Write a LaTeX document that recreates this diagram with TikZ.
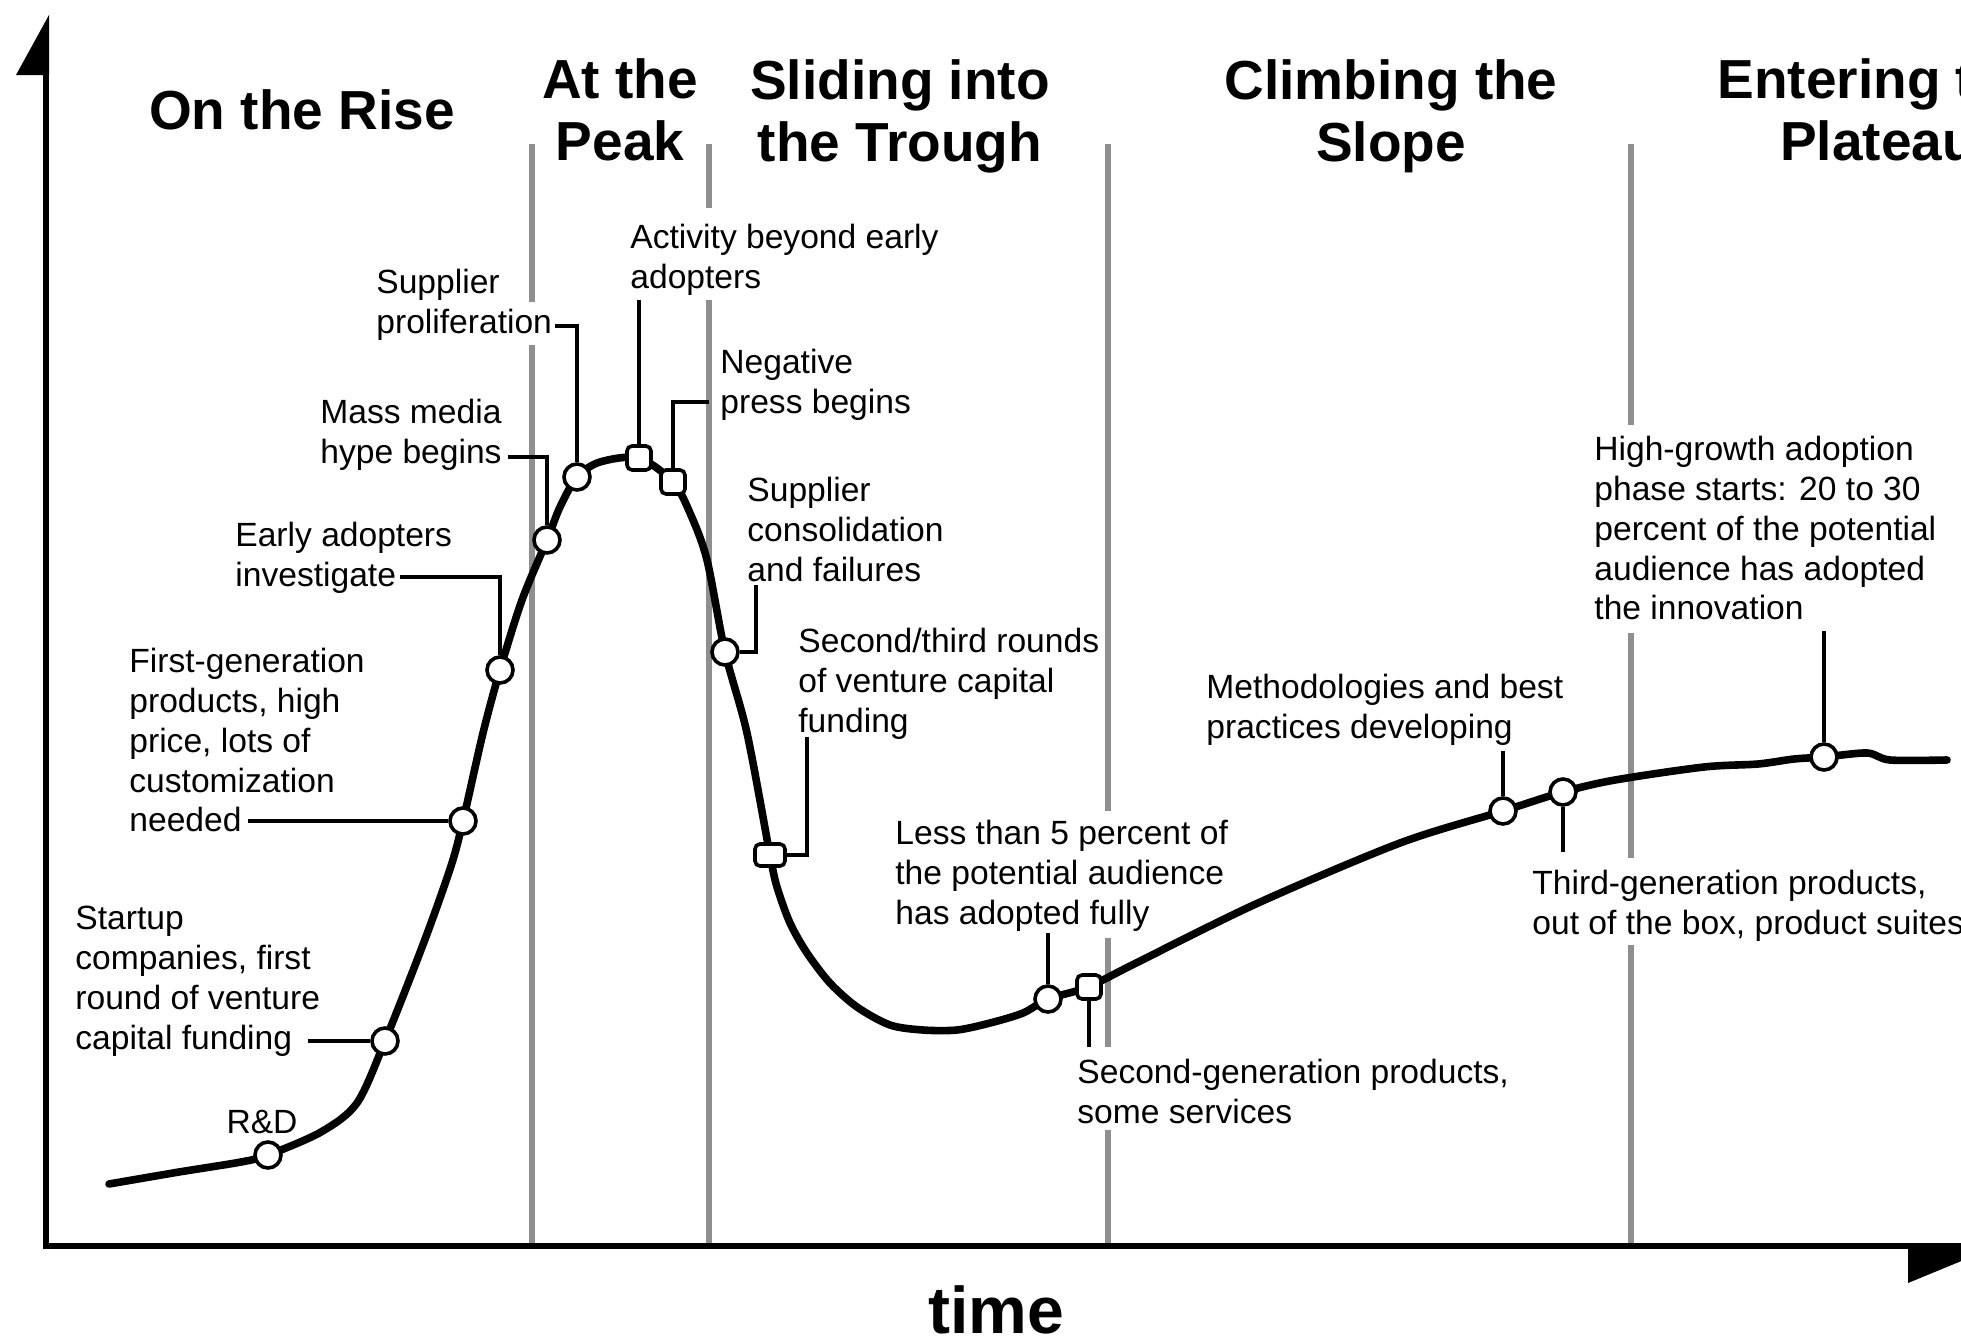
\documentclass[tikz,border=0pt]{standalone}
\usepackage{fontspec}
\setmainfont{Liberation Sans}
\definecolor{sepgray}{HTML}{8F8F8F}
\begin{document}
\begin{tikzpicture}[x=0.5pt,y=-0.5pt,
  lbl/.style={anchor=north west, inner sep=0pt, align=left, font=\fontsize{16.8}{19.9}\selectfont},
  ttl/.style={align=center, inner sep=0pt, font=\bfseries\fontsize{27.5}{31}\selectfont},
  curve/.style={line width=3.8pt, line join=round, line cap=round},
  call/.style={line width=2pt},
  sep/.style={line width=2.6pt, draw=sepgray},
  mk/.style={circle, draw, fill=white, line width=1.8pt, minimum size=13pt, inner sep=0pt},
  mks/.style={rectangle, rounded corners=2.5pt, draw, fill=white, line width=1.8pt, minimum width=12pt, minimum height=12pt, inner sep=0pt},
  axisline/.style={line width=3pt}]
\useasboundingbox (0,0) rectangle (1961,1344);
\fill[white] (0,0) rectangle (1961,1344);
\clip (0,0) rectangle (1961,1344);

% phase separators
\draw[sep] (532,144) -- (532,302) (532,345) -- (532,1246);
\draw[sep] (709,144) -- (709,208) (709,300) -- (709,1246);
\draw[sep] (1108,144) -- (1108,811) (1108,938) -- (1108,1047) (1108,1130) -- (1108,1246);
\draw[sep] (1631,144) -- (1631,425) (1631,633) -- (1631,858) (1631,945) -- (1631,1246);

% axes
\draw[axisline] (46,1249) -- (46,70);
\fill (49,15) -- (16,75) -- (49,75) -- cycle;
\draw[axisline] (43,1246) -- (1910,1246);
\fill (1908,1243) -- (1908,1283) -- (2005,1243) -- cycle;

% titles
\node[ttl] (t1) at (302,110) {On the Rise};
\node[ttl] (t2) at (620,110) {At the\\Peak};
\node[ttl] (t3) at (900,116) {Sliding into\\the Trough};
\node[ttl] (t4) at (1391,116) {Climbing the\\Slope};
\node[ttl] (t5) at (1878,110) {Entering the\\Plateau};
\node[inner sep=0pt, font=\bfseries\fontsize{33}{36}\selectfont] (time) at (996,1310) {time};

% hype curve
\draw[curve] plot[smooth, tension=0.5] coordinates {
 (109,1184) (179,1172) (241,1162) (268,1155) (321,1132) (357,1103) (385,1041)
 (424,942) (451,866) (463,821) (483,733) (500,670) (522,600) (547,540) (560,507)
 (577,477) (600,462) (639,458) (673,482) (690,513) (707,560) (725,652) (747,733)
 (770,855) (777,887) (790,923) (807,953) (830,983) (857,1007) (890,1025)
 (923,1030) (957,1030) (990,1023) (1023,1013) (1048,999)
 (1088,987) (1140,961) (1258,903) (1400,843) (1503,811) (1563,792) (1615,780)
 (1704,767) (1758,764) (1794,759) (1824,757) (1867,753) (1890,760) (1947,760)};

% labels
\node[lbl] (l2) at (75,906) {Startup\\companies, first\\round of venture\\capital funding};
\node[lbl] (l3) at (129,648) {First-generation\\products, high\\price, lots of\\customization\\needed};
\node[lbl] (l4) at (235,522) {Early adopters\\investigate};
\node[lbl] (l5) at (320,399) {Mass media\\hype begins};
\node[lbl] (l6) at (376,269) {Supplier\\proliferation};
\node[lbl] (l7) at (630,224) {Activity beyond early\\adopters};
\node[lbl] (l8) at (720,349) {Negative\\press begins};
\node[lbl] (l9) at (747,477) {Supplier\\consolidation\\and failures};
\node[lbl] (l10) at (798,628) {Second/third rounds\\of venture capital\\funding};
\node[lbl] (l11) at (895,820) {Less than 5 percent of\\the potential audience\\has adopted fully};
\node[lbl] (l12) at (1077,1059) {Second-generation products,\\some services};
\node[lbl] (l13) at (1206,674) {Methodologies and best\\practices developing};
\node[lbl] (l14) at (1532,870) {Third-generation products,\\out of the box, product suites};
\node[lbl] (l15) at (1594,436) {High-growth adoption\\phase starts: 20 to 30\\percent of the potential\\audience has adopted\\the innovation};

% callout ends
\coordinate (c2) at (308,1041);
\coordinate (c3) at (248,821);
\coordinate (c4) at (400,577);
\coordinate (c5) at (508,457);
\coordinate (c6) at (555,326);
\coordinate (c7) at (639,300);
\coordinate (c8) at (709,402);
\coordinate (c9) at (756,585);
\coordinate (c10) at (807,737);
\coordinate (c11) at (1048,933);
\coordinate (c12) at (1089,1047);
\coordinate (c13) at (1503,751);
\coordinate (c14) at (1563,852);
\coordinate (c15) at (1824,631);

% markers
\node[mk] (m1) at (268,1155) {};
\node[mk] (m2) at (385,1041) {};
\node[mk] (m3) at (463,821) {};
\node[mk] (m4) at (500,670) {};
\node[mk] (m5) at (547,540) {};
\node[mk] (m6) at (577,477) {};
\node[mks] (m7) at (639,458) {};
\node[mks] (m8) at (673,482) {};
\node[mk] (m9) at (725,652) {};
\node[mks, minimum width=15pt, minimum height=11pt] (m10) at (770,855) {};
\node[mk] (m11) at (1048,999) {};
\node[mks] (m12) at (1089,987) {};
\node[mk] (m13) at (1503,811) {};
\node[mk] (m14) at (1563,792) {};
\node[mk] (m15) at (1824,757) {};

\node[inner sep=0pt, font=\fontsize{16.8}{19.9}\selectfont] (l1) at (262,1122) {R\&D};

% callouts
\draw[call] (c2) -- (m2);
\draw[call] (c3) -- (m3);
\draw[call] (c4) -| (m4);
\draw[call] (c5) -| (m5);
\draw[call] (c6) -| (m6);
\draw[call] (c7) -- (m7);
\draw[call] (c8) -| (m8);
\draw[call] (c9) |- (m9);
\draw[call] (c10) |- (m10);
\draw[call] (c11) -- (m11);
\draw[call] (m12) -- (c12);
\draw[call] (c13) -- (m13);
\draw[call] (m14) -- (c14);
\draw[call] (c15) -- (m15);
\end{tikzpicture}
\end{document}
